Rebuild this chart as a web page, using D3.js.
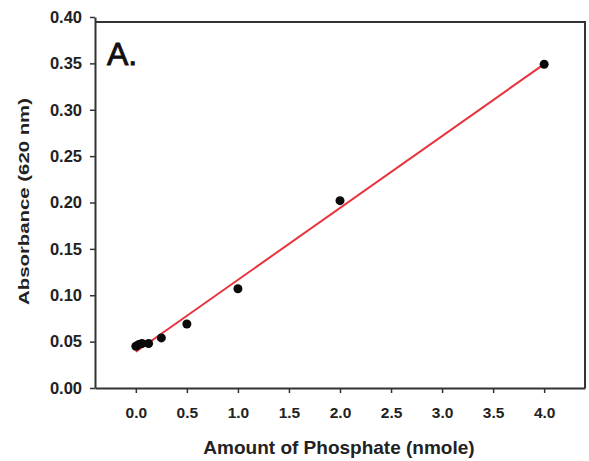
<!DOCTYPE html>
<html>
<head>
<meta charset="utf-8">
<script src="https://cdn.jsdelivr.net/npm/d3@7"></script>
<style>
  html, body { margin: 0; padding: 0; background: #fff; }
  svg { display: block; }
</style>
</head>
<body>
<svg id="chart" width="589" height="461"></svg>
<script>
// Data
const phosphateAmounts = [0, 0.03, 0.06, 0.125, 0.25, 0.5, 1.0, 2.0, 4.0];
const absorbances      = [0.045, 0.047, 0.048, 0.048, 0.054, 0.069, 0.107, 0.202, 0.349];
const xTickValues = [0, 0.5, 1.0, 1.5, 2.0, 2.5, 3.0, 3.5, 4.0];
const yTickValues = [0, 0.05, 0.10, 0.15, 0.20, 0.25, 0.30, 0.35, 0.40];
const panelLabel = "A.";
const xTitle = "Amount of Phosphate (nmole)";
const yTitle = "Absorbance (620 nm)";

const svg = d3.select("#chart");
const font = "'Liberation Sans', Arial, sans-serif";
const axisColor = "#333";
const textColor = "#222";

const frame = { left: 95, right: 585, top: 22, bottom: 388 };

const x = d3.scaleLinear().domain([-0.4, 4.4]).range([frame.left, frame.right]);
const y = d3.scaleLinear().domain([0, 0.40]).range([frame.bottom, 17]);

// Frame (top and right sides)
svg.append("path")
  .attr("d", `M${frame.left},${frame.top}H${frame.right}V${frame.bottom}`)
  .attr("fill", "none").attr("stroke", axisColor).attr("stroke-width", 2);

// Axes
const xAxis = d3.axisBottom(x).tickValues(xTickValues).tickFormat(d3.format(".1f"))
  .tickSizeInner(5).tickSizeOuter(0).tickPadding(10);
const yAxis = d3.axisLeft(y).tickValues(yTickValues).tickFormat(d3.format(".2f"))
  .tickSizeInner(5).tickSizeOuter(0).tickPadding(8);

const gx = svg.append("g").attr("transform", `translate(0,${frame.bottom})`).call(xAxis);
const gy = svg.append("g").attr("transform", `translate(${frame.left},0)`).call(yAxis);

[gx, gy].forEach(g => {
  g.select(".domain").attr("stroke", axisColor).attr("stroke-width", 2);
  g.selectAll(".tick line").attr("stroke", axisColor).attr("stroke-width", 1.5);
  g.selectAll(".tick text")
    .attr("fill", textColor)
    .style("font-family", font)
    .style("font-weight", "bold")
    .style("font-size", "15.5px");
});
gx.selectAll(".tick text").attr("dy", "0.95em");
gy.selectAll(".tick text").style("font-size", "16.5px");

// Linear regression fit
const n = phosphateAmounts.length;
const mx = d3.mean(phosphateAmounts), my = d3.mean(absorbances);
let sxy = 0, sxx = 0;
for (let i = 0; i < n; i++) {
  sxy += (phosphateAmounts[i] - mx) * (absorbances[i] - my);
  sxx += (phosphateAmounts[i] - mx) ** 2;
}
const slope = sxy / sxx, intercept = my - slope * mx;
const xExt = d3.extent(phosphateAmounts);
const fitLine = d3.line().x(d => x(d)).y(d => y(intercept + slope * d));

svg.append("path")
  .datum(xExt)
  .attr("d", fitLine)
  .attr("fill", "none")
  .attr("stroke", "#e8323c")
  .attr("stroke-width", 2);

// Points
svg.append("g").selectAll("circle")
  .data(phosphateAmounts.map((v, i) => [v, absorbances[i]]))
  .join("circle")
  .attr("cx", d => x(d[0]))
  .attr("cy", d => y(d[1]))
  .attr("r", 4.5)
  .attr("fill", "#0a0a0a");

// Panel label
svg.append("text")
  .attr("x", 107).attr("y", 65)
  .attr("fill", "#111")
  .attr("stroke", "#111")
  .attr("stroke-width", 0.9)
  .style("font-family", font)
  .style("font-size", "32px")
  .text(panelLabel);

// Axis titles
svg.append("text")
  .attr("x", 339).attr("y", 454)
  .attr("text-anchor", "middle")
  .attr("fill", textColor)
  .style("font-family", font)
  .style("font-weight", "bold")
  .style("font-size", "19px")
  .text(xTitle);

svg.append("text")
  .attr("transform", "translate(29,201.5) rotate(-90)")
  .attr("text-anchor", "middle")
  .attr("fill", textColor)
  .attr("textLength", 207)
  .attr("lengthAdjust", "spacingAndGlyphs")
  .style("font-family", font)
  .style("font-weight", "bold")
  .style("font-size", "15px")
  .text(yTitle);
</script>
</body>
</html>
